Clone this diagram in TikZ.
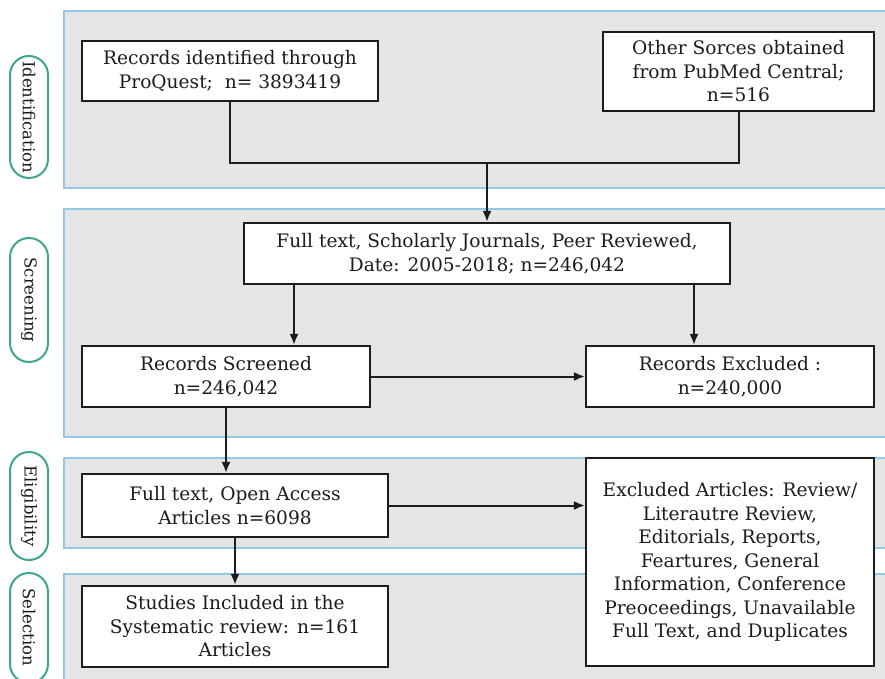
\documentclass[tikz,border=0pt]{standalone}
\usepackage{fontspec}
\setmainfont{DejaVu Serif}
\usetikzlibrary{arrows.meta}
\definecolor{panelfill}{HTML}{E5E5E5}
\definecolor{panelline}{HTML}{92C9E6}
\definecolor{pillline}{HTML}{3FA58C}
\definecolor{ink}{HTML}{1C1C1C}
\tikzset{
  panel/.style={fill=panelfill, draw=panelline, line width=2.2pt},
  pill/.style={draw=pillline, fill=white, line width=2pt, rounded corners=19pt},
  pilltext/.style={rotate=-90, font=\fontsize{16.5}{19}\selectfont, text=ink},
  stepbox/.style={draw=ink, fill=white, line width=2.2pt, inner sep=0pt, align=center,
    text=ink, font=\fontsize{18.6}{23.5}\selectfont},
  link/.style={draw=ink, line width=2pt},
  arrowlink/.style={link, -{Latex[length=11pt,width=9pt]}},
}
\newcommand{\boxat}[6]{% name, x1, y1, x2, y2, text
  \node[stepbox, minimum width={#4-#2}, minimum height={#5-#3}]
    (#1) at ({(#2+#4)/2},{(#3+#5)/2}) {#6};}
\begin{document}
\begin{tikzpicture}[x=1pt,y=-1pt]
  \clip (0,0) rectangle (885,678);
  \fill[white] (0,0) rectangle (885,678);

  % stage panels
  \draw[panel] (64,11) rectangle (895,188);
  \draw[panel] (64,209) rectangle (895,437);
  \draw[panel] (64,458) rectangle (895,548);
  \draw[panel] (64,574) rectangle (895,700);

  % stage labels
  \draw[pill] (10,56) rectangle (48,178);
  \node[pilltext] (lid) at (29,117) {Identification};
  \draw[pill] (10,238) rectangle (48,362);
  \node[pilltext] (lsc) at (29,300) {Screening};
  \draw[pill] (10,452) rectangle (48,560);
  \node[pilltext] (lel) at (29,506) {Eligibility};
  \draw[pill] (10,573) rectangle (48,683);
  \node[pilltext] (lse) at (29,627) {Selection};

  % boxes
  \boxat{A}{82}{41}{378}{101}{Records identified through\\ProQuest;\ \ n= 3893419}
  \boxat{B}{603}{32}{874}{111}{Other Sorces obtained\\from PubMed Central;\\n=516}
  \boxat{C}{244}{223}{730}{284}{Full text, Scholarly Journals, Peer Reviewed,\\Date: 2005-2018; n=246,042}
  \boxat{D}{82}{346}{370}{407}{Records Screened\\n=246,042}
  \boxat{E}{586}{346}{874}{407}{Records Excluded :\\n=240,000}
  \boxat{F}{82}{474}{388}{537}{Full text, Open Access\\Articles n=6098}
  \boxat{G}{82}{586}{388}{667}{Studies Included in the\\Systematic review: n=161\\Articles}
  \boxat{H}{586}{458}{874}{666}{Excluded Articles: Review/\\Literautre Review,\\Editorials, Reports,\\Feartures, General\\Information, Conference\\Preoceedings, Unavailable\\Full Text, and Duplicates}

  % connectors
  \coordinate (join) at (487,163);
  \draw[link] (A.south) |- (join) -| (B.south);
  \draw[arrowlink] (join) -- (C.north);
  \draw[arrowlink] (C.south -| 294,0) -- (D.north -| 294,0);
  \draw[arrowlink] (C.south -| 694,0) -- (E.north -| 694,0);
  \draw[arrowlink] (D.east) -- (E.west);
  \draw[arrowlink] (D.south) -- (D.south |- F.north);
  \draw[arrowlink] (F.south) -- (G.north);
  \draw[arrowlink] (F.east) -- (F.east -| H.west);
\end{tikzpicture}
\end{document}
